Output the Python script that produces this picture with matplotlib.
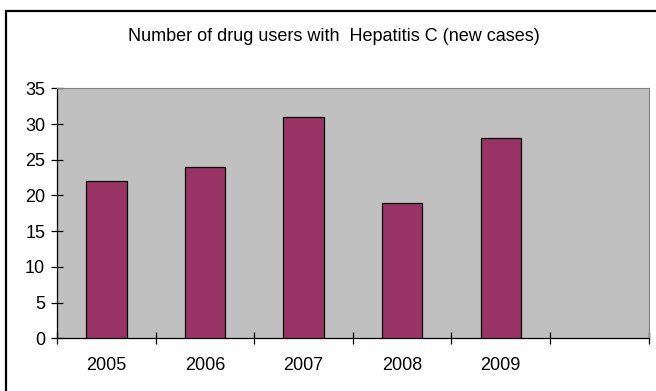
import matplotlib
matplotlib.use("Agg")
import matplotlib.pyplot as plt
from matplotlib.patches import Rectangle

plt.rcParams['font.family'] = ['Liberation Sans', 'DejaVu Sans']

years = ["2005", "2006", "2007", "2008", "2009", ""]
cases = [22, 24, 31, 19, 28]
title = "Number of drug users with  Hepatitis C (new cases)"
y_ticks = [0, 5, 10, 15, 20, 25, 30, 35]

W, H = 656, 391
fig = plt.figure(figsize=(W / 100, H / 100), dpi=100)

# outer chart frame (only top and left edges fall inside the image)
fig.patches.append(Rectangle((6 / W, -0.1), 1.2, 1 - 11 / H + 0.1,
                             transform=fig.transFigure, fill=False,
                             edgecolor="black", linewidth=1.6))

left, right, top, bottom = 57, 648.7, 88.3, 338.3
ax = fig.add_axes([left / W, 1 - bottom / H, (right - left) / W, (bottom - top) / H])
ax.set_facecolor("#C0C0C0")

n = len(years)
ax.bar(range(len(cases)), cases, width=0.41, color="#993366",
       edgecolor="black", linewidth=0.9, zorder=3)

ax.set_xlim(-0.5, n - 0.5)
ax.set_ylim(0, 35)

ax.set_yticks(y_ticks)
ax.set_yticklabels([str(v) for v in y_ticks], fontsize=13)
ax.tick_params(axis="y", direction="inout", length=8, width=0.9, pad=4.5)

# category boundary ticks, labels centred on the categories
ax.set_xticks([i - 0.5 for i in range(n + 1)])
ax.set_xticklabels([])
ax.set_xticks(range(n), minor=True)
ax.set_xticklabels(years, minor=True, fontsize=13)
ax.tick_params(axis="x", which="major", direction="inout", length=8.5, width=0.9)
ax.tick_params(axis="x", which="minor", length=0, pad=13.5)

for side in ("top", "right"):
    ax.spines[side].set_color("#808080")
    ax.spines[side].set_linewidth(0.8)
for side in ("left", "bottom"):
    ax.spines[side].set_color("black")
    ax.spines[side].set_linewidth(0.9)

fig.text(334 / W, 1 - 40.7 / H, title, ha="center", va="baseline", fontsize=13)

fig.savefig("out.png", dpi=100, facecolor="white")
